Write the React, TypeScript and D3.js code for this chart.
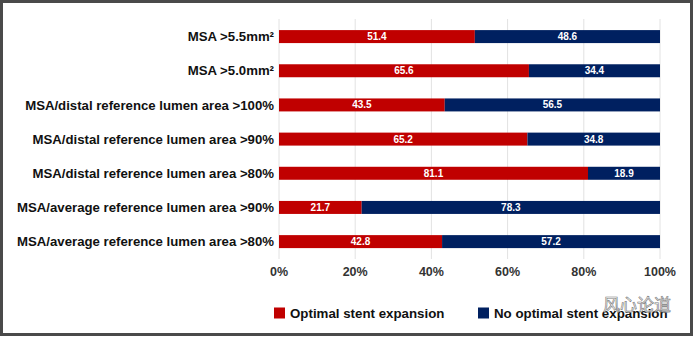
import React from "react";
import * as d3 from "d3";

const categories = [
  "MSA >5.5mm²",
  "MSA >5.0mm²",
  "MSA/distal reference lumen area >100%",
  "MSA/distal reference lumen area >90%",
  "MSA/distal reference lumen area >80%",
  "MSA/average reference lumen area >90%",
  "MSA/average reference lumen area >80%",
];
const optimal = [51.4, 65.6, 43.5, 65.2, 81.1, 21.7, 42.8];
const noOptimal = [48.6, 34.4, 56.5, 34.8, 18.9, 78.3, 57.2];
const ticks = [0, 20, 40, 60, 80, 100];
const seriesNames = ["Optimal stent expansion", "No optimal stent expansion"];
const watermark = "风心论道";

const W = 696;
const H = 338;
const RED = "#c00000";
const NAVY = "#002060";
const FONT = "'Liberation Sans', Arial, sans-serif";

export default function App() {
  const x = d3.scaleLinear().domain([0, 100]).range([279, 660]);
  const y = d3
    .scaleBand<string>()
    .domain(categories)
    .range([19.5, 258.7])
    .paddingInner(0.62)
    .paddingOuter(0.31);
  const bw = y.bandwidth();

  return (
    <svg
      width={W}
      height={H}
      style={{ position: "absolute", left: 0, top: 0, background: "#fff" }}
      fontFamily={FONT}
    >
      <rect x={0} y={0} width={W} height={H} fill="#fff" />
      <rect x={1.5} y={1.5} width={690} height={333} fill="none" stroke="#4a4a4a" strokeWidth={3} />
      {ticks.map((t) => (
        <line key={t} x1={x(t)} x2={x(t)} y1={19} y2={259} stroke="#e2e2e2" strokeWidth={1} />
      ))}
      {categories.map((c, i) => {
        const y0 = y(c)!;
        const a = optimal[i];
        const b = noOptimal[i];
        return (
          <g key={c}>
            <rect x={x(0)} y={y0} width={x(a) - x(0)} height={bw} fill={RED} />
            <rect x={x(a)} y={y0} width={x(a + b) - x(a)} height={bw} fill={NAVY} />
            <text
              x={(x(0) + x(a)) / 2}
              y={y0 + bw / 2}
              dy="0.35em"
              textAnchor="middle"
              fill="#fff"
              fontSize={10}
              fontWeight="bold"
            >
              {a.toFixed(1)}
            </text>
            <text
              x={(x(a) + x(a + b)) / 2}
              y={y0 + bw / 2}
              dy="0.35em"
              textAnchor="middle"
              fill="#fff"
              fontSize={10}
              fontWeight="bold"
            >
              {b.toFixed(1)}
            </text>
            <text
              x={274}
              y={y0 + bw / 2}
              dy="0.35em"
              textAnchor="end"
              fill="#111"
              fontSize={13.2}
              fontWeight="bold"
            >
              {c}
            </text>
          </g>
        );
      })}
      {ticks.map((t) => (
        <text
          key={"t" + t}
          x={x(t)}
          y={272}
          dy="0.35em"
          textAnchor="middle"
          fill="#333"
          fontSize={12.5}
          fontWeight="bold"
        >
          {t + "%"}
        </text>
      ))}
      <g>
        <rect x={274} y={307.5} width={11} height={11} fill={RED} />
        <text x={290} y={313} dy="0.35em" fontSize={13.3} fontWeight="bold" fill="#111">
          {seriesNames[0]}
        </text>
        <rect x={478} y={307.5} width={11} height={11} fill={NAVY} />
        <text x={494} y={313} dy="0.35em" fontSize={13.3} fontWeight="bold" fill="#111">
          {seriesNames[1]}
        </text>
      </g>
      <text
        x={603}
        y={305}
        dy="0.35em"
        fontSize={17}
        fill="#ffffff"
        fillOpacity={0.7}
        stroke="#777"
        strokeWidth={0.6}
        fontFamily="'Noto Sans CJK SC', sans-serif"
      >
        {watermark}
      </text>
    </svg>
  );
}
